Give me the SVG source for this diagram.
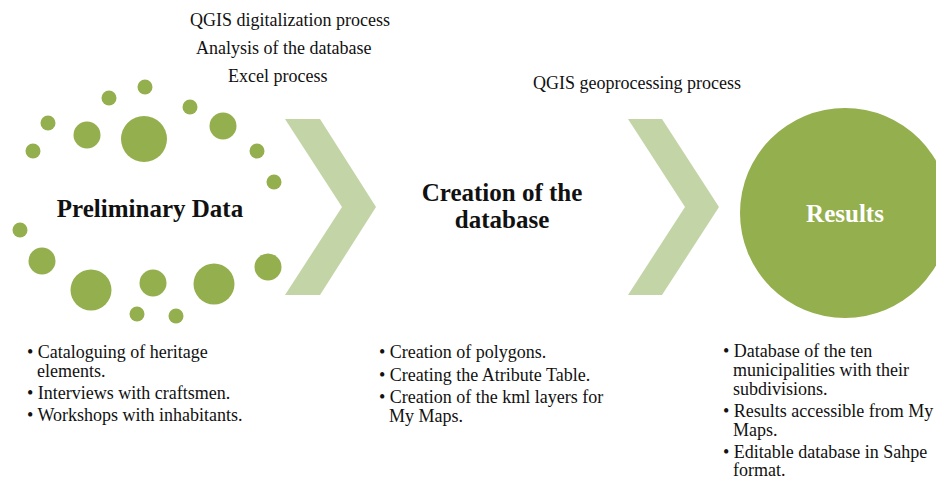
<svg xmlns="http://www.w3.org/2000/svg" width="936" height="480" viewBox="0 0 936 480">
  <style>
    .dot { fill: #94AF4D; }
    .chev { fill: #C3D4A6; }
    .t { font-family: "Liberation Serif", "Times New Roman", serif; font-size: 18px; fill: #111; }
    .h { font-family: "Liberation Serif", "Times New Roman", serif; font-size: 25px; font-weight: bold; fill: #111; text-anchor: middle; }
    .hw { fill: #ffffff; }
  </style>
  <rect width="936" height="480" fill="#ffffff"/>

  <!-- process labels above the arrows -->
  <g id="labels">
    <text class="t" x="190" y="26">QGIS digitalization process</text>
    <text class="t" x="196" y="54">Analysis of the database</text>
    <text class="t" x="228" y="82">Excel process</text>
    <text class="t" x="533" y="89">QGIS geoprocessing process</text>
  </g>

  <!-- stage 1: ring of dots -->
  <g id="preliminary">
    <circle class="dot" cx="145" cy="87" r="7.5"/>
    <circle class="dot" cx="109" cy="98" r="7.5"/>
    <circle class="dot" cx="190" cy="107" r="7.5"/>
    <circle class="dot" cx="48" cy="123" r="7.5"/>
    <circle class="dot" cx="87" cy="135" r="13.5"/>
    <circle class="dot" cx="144" cy="139" r="23"/>
    <circle class="dot" cx="223" cy="126" r="13.5"/>
    <circle class="dot" cx="33" cy="151" r="7.5"/>
    <circle class="dot" cx="257" cy="151" r="7.5"/>
    <circle class="dot" cx="274" cy="182" r="7.5"/>
    <circle class="dot" cx="20" cy="230" r="7.5"/>
    <circle class="dot" cx="42" cy="261" r="13.5"/>
    <circle class="dot" cx="91" cy="290" r="20.5"/>
    <circle class="dot" cx="153" cy="283" r="13.5"/>
    <circle class="dot" cx="214" cy="284" r="20.5"/>
    <circle class="dot" cx="268" cy="267" r="13.5"/>
    <circle class="dot" cx="137" cy="314" r="7.5"/>
    <circle class="dot" cx="176" cy="316" r="7.5"/>
    <text class="h" x="150" y="217">Preliminary Data</text>
  </g>

  <!-- chevron arrows between stages -->
  <g id="connectors">
    <polygon class="chev" points="285,119 320,119 376,207 320,295 285,295 342,207"/>
    <polygon class="chev" points="628,119 662,119 719,207 662,295 628,295 685,207"/>
  </g>

  <!-- stage 2 -->
  <g id="database">
    <text class="h" x="502" y="201">Creation of the</text>
    <text class="h" x="502" y="228">database</text>
  </g>

  <!-- stage 3 -->
  <g id="results">
    <circle class="dot" cx="845" cy="213" r="105"/>
    <text class="h hw" x="845" y="222">Results</text>
  </g>

  <!-- bullet lists -->
  <g id="list-preliminary" class="t">
    <text x="27" y="358">• Cataloguing of heritage</text>
    <text x="37" y="377">elements.</text>
    <text x="27" y="399">• Interviews with craftsmen.</text>
    <text x="27" y="421">• Workshops with inhabitants.</text>
  </g>
  <g id="list-database" class="t">
    <text x="379" y="358">• Creation of polygons.</text>
    <text x="379" y="381">• Creating the Atribute Table.</text>
    <text x="379" y="403">• Creation of the kml layers for</text>
    <text x="389" y="422">My Maps.</text>
  </g>
  <g id="list-results" class="t">
    <text x="723" y="357">• Database of the ten</text>
    <text x="733" y="376">municipalities with their</text>
    <text x="733" y="395">subdivisions.</text>
    <text x="723" y="417">• Results accessible from My</text>
    <text x="733" y="436">Maps.</text>
    <text x="723" y="458">• Editable database in Sahpe</text>
    <text x="733" y="476">format.</text>
  </g>
</svg>
